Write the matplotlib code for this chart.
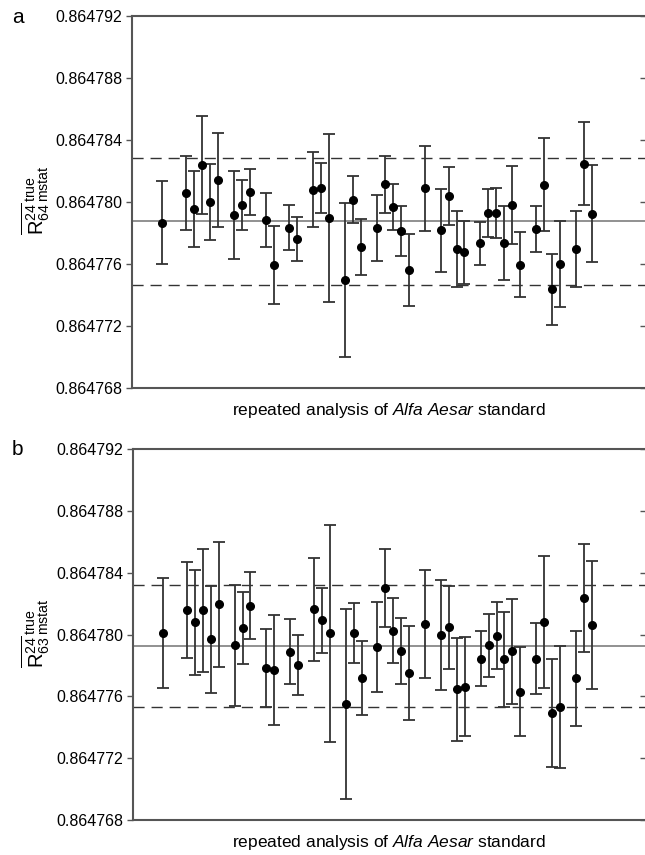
import matplotlib
matplotlib.use("Agg")
import matplotlib.pyplot as plt
from matplotlib.ticker import FixedLocator, FormatStrFormatter

plt.rcParams['font.family'] = ['Liberation Sans', 'DejaVu Sans']
plt.rcParams['mathtext.fontset'] = 'custom'
plt.rcParams['mathtext.rm'] = 'Liberation Sans'
plt.rcParams['mathtext.it'] = 'Liberation Sans:italic'
plt.rcParams['mathtext.bf'] = 'Liberation Sans:bold'

# run number of each analysis (same runs in both panels)
runs = [0, 3, 4, 5, 6, 7, 9, 10, 11, 13, 14, 16, 17, 19, 20, 21, 23, 24, 25, 27,
        28, 29, 30, 31, 33, 35, 36, 37, 38, 40, 41, 42, 43, 44, 45, 47, 48, 49, 50,
        52, 53, 54]

# ratio R64 (panel a), with error bars
r64 = [0.86477867, 0.86478056, 0.86477955, 0.86478239, 0.86478002, 0.86478142,
       0.86477918, 0.86477981, 0.86478065, 0.86477886, 0.86477596, 0.86477834,
       0.86477763, 0.86478080, 0.86478092, 0.86477895, 0.86477497, 0.86478015,
       0.86477712, 0.86477832, 0.86478114, 0.86477970, 0.86477813, 0.86477561,
       0.86478088, 0.86477817, 0.86478039, 0.86477695, 0.86477677, 0.86477733,
       0.86477931, 0.86477931, 0.86477733, 0.86477981, 0.86477596, 0.86477826,
       0.86478112, 0.86477437, 0.86477602, 0.86477697, 0.86478247, 0.86477925]
r64_err = [2.69e-6, 2.39e-6, 2.48e-6, 3.17e-6, 2.45e-6, 3.03e-6, 2.84e-6, 1.61e-6,
           1.51e-6, 1.75e-6, 2.52e-6, 1.46e-6, 1.42e-6, 2.43e-6, 1.60e-6, 5.43e-6,
           4.94e-6, 1.53e-6, 1.81e-6, 2.10e-6, 1.86e-6, 1.48e-6, 1.59e-6, 2.34e-6,
           2.72e-6, 2.68e-6, 1.87e-6, 2.46e-6, 2.03e-6, 1.39e-6, 1.54e-6, 1.61e-6,
           2.39e-6, 2.50e-6, 2.12e-6, 1.47e-6, 3.01e-6, 2.28e-6, 2.77e-6, 2.43e-6,
           2.67e-6, 3.12e-6]
r64_mean = 0.86477875
r64_2sd = 4.1e-6

# ratio R63 (panel b)
r63 = [0.86478010, 0.86478158, 0.86478079, 0.86478156, 0.86477969, 0.86478195,
       0.86477930, 0.86478044, 0.86478186, 0.86477783, 0.86477770, 0.86477889,
       0.86477805, 0.86478163, 0.86478092, 0.86478007, 0.86477552, 0.86478010,
       0.86477718, 0.86477919, 0.86478301, 0.86478025, 0.86477893, 0.86477751,
       0.86478066, 0.86477997, 0.86478046, 0.86477645, 0.86477662, 0.86477844,
       0.86477930, 0.86477992, 0.86477839, 0.86477891, 0.86477630, 0.86477844,
       0.86478079, 0.86477494, 0.86477531, 0.86477716, 0.86478236, 0.86478061]
r63_err = [3.54e-6, 3.12e-6, 3.38e-6, 3.98e-6, 3.47e-6, 4.04e-6, 3.90e-6, 2.32e-6,
           2.18e-6, 2.55e-6, 3.53e-6, 2.09e-6, 1.94e-6, 3.34e-6, 2.09e-6, 7.04e-6,
           6.15e-6, 1.94e-6, 2.38e-6, 2.92e-6, 2.50e-6, 2.09e-6, 2.11e-6, 3.05e-6,
           3.49e-6, 3.55e-6, 2.66e-6, 3.33e-6, 3.20e-6, 1.76e-6, 2.03e-6, 2.17e-6,
           3.08e-6, 3.39e-6, 2.88e-6, 2.31e-6, 4.28e-6, 3.50e-6, 3.93e-6, 3.07e-6,
           3.48e-6, 4.13e-6]
r63_mean = 0.86477924
r63_2sd = 3.96e-6

yticks = [0.864768, 0.864772, 0.864776, 0.864780, 0.864784, 0.864788, 0.864792]

fig = plt.figure(figsize=(6.45, 8.55), dpi=100)
W, H = 645.0, 855.0
ax_a = fig.add_axes([132 / W, 1 - 388 / H, 1 - 132 / W, 372 / H])
ax_b = fig.add_axes([133 / W, 1 - 820 / H, 1 - 133 / W, 371 / H])

spine_col = '#555555'


def draw_panel(ax, vals, errs, mean, sd2, letter, ylab, ylab_y):
    ax.axhline(mean, color='#888888', lw=1.3, zorder=1)
    for lvl in (mean + sd2, mean - sd2):
        ax.axhline(lvl, color='#333333', lw=1.0, dashes=(8, 5), zorder=1)
    ax.errorbar(runs, vals, yerr=errs, fmt='o', color='black', ms=5.5,
                ecolor='#333333', elinewidth=1.3, capsize=4.0, capthick=1.3,
                zorder=3)
    ax.set_xlim(-3.8, 60.7)
    ax.set_ylim(yticks[0], yticks[-1])
    ax.yaxis.set_major_locator(FixedLocator(yticks))
    ax.yaxis.set_major_formatter(FormatStrFormatter('%.6f'))
    ax.tick_params(axis='y', which='major', direction='out', length=4,
                   width=1.0, color=spine_col, labelsize=11.5, pad=3,
                   right=True)
    ax.tick_params(axis='x', bottom=False, labelbottom=False)
    for side in ('left', 'top', 'bottom'):
        ax.spines[side].set_color(spine_col)
        ax.spines[side].set_linewidth(1.5)
    ax.spines['right'].set_visible(False)
    # short inward ticks along the right edge
    for t in ax.yaxis.get_major_ticks():
        t.tick2line.set_marker(0)
        t.tick2line.set_markersize(3.5)
    ax.set_xlabel('repeated analysis of $\\mathit{Alfa\\ Aesar}$ standard',
                  fontsize=12.5, labelpad=9)
    fig.text(12 / W, letter[1], letter[0], fontsize=15, va='top', ha='left')
    fig.text(36 / W, ylab_y, ylab, rotation=90, fontsize=14.5,
             ha='center', va='center')


draw_panel(ax_a, r64, r64_err, r64_mean, r64_2sd, ('a', 1 - 8 / H),
           r'$\overline{\mathrm{R}^{24}_{64}}^{\,\mathrm{true}}_{\,\mathrm{mstat}}$',
           1 - 200 / H)
draw_panel(ax_b, r63, r63_err, r63_mean, r63_2sd, ('b', 1 - 440 / H),
           r'$\overline{\mathrm{R}^{24}_{63}}^{\,\mathrm{true}}_{\,\mathrm{mstat}}$',
           1 - 633 / H)

fig.savefig('out.png', dpi=100)
